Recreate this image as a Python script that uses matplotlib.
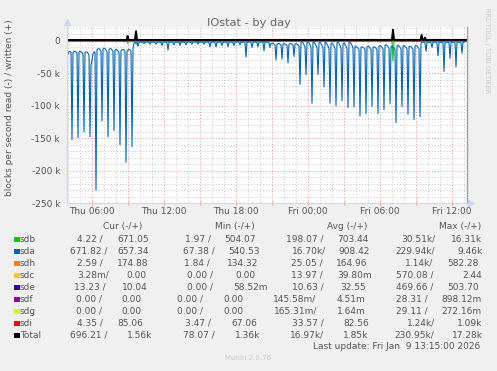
import matplotlib
matplotlib.use("Agg")
import matplotlib.pyplot as plt
import numpy as np
from matplotlib.patches import Rectangle

W, H = 497, 371

# x axis is hours since Thu 00:00, 5 minute samples from Thu 03:55 to Fri 13:15
t_start = 3 + 55 / 60
step = 5 / 60
t_end = t_start + 400 * step

tick_hours = [6, 12, 18, 24, 30, 36]
tick_labels = ["Thu 06:00", "Thu 12:00", "Thu 18:00", "Fri 00:00", "Fri 06:00", "Fri 12:00"]
y_ticks = [0, -50, -100, -150, -200, -250]
y_tick_labels = ["0", "-50 k", "-100 k", "-150 k", "-200 k", "-250 k"]

# sda read, k blocks/s, one row per half hour: five samples then the spike
sda_read = [
    [24, 20, 17, 16, 18, 152], [18, 16, 16, 17, 19, 149], [17, 16, 17, 18, 21, 140],
    [18, 17, 17, 19, 22, 148], [37, 30, 20, 17, 17, 230], [14, 12, 12, 13, 16, 123],
    [12, 11, 12, 14, 17, 148], [13, 12, 12, 14, 16, 138], [14, 13, 14, 15, 18, 160],
    [15, 14, 13, 14, 17, 187], [16, 14, 13, 14, 16, 163],
    [12, 3, 2, 2, 2, 8], [2, 2, 1.5, 2, 2.5, 4], [2, 2, 1.5, 2, 2.5, 5],
    [2, 2, 1.5, 2, 2.5, 5], [2, 2, 1.5, 2, 2.5, 7], [2, 2, 1.5, 2, 2.5, 14],
    [2, 2, 1.5, 2, 2.5, 6], [2, 2, 1.5, 2, 2.5, 7], [2, 2, 1.5, 2, 2.5, 6],
    [2, 2, 1.5, 2, 2.5, 5], [2, 2, 1.5, 2, 2.5, 5], [2, 2, 1.5, 2, 2.5, 5],
    [2, 2, 1.5, 2, 2.5, 9], [2, 2, 1.5, 2, 2.5, 9], [2, 2, 1.5, 2, 2.5, 7],
    [2, 2, 1.5, 2, 2.5, 9], [2, 2, 1.5, 2, 2.5, 7], [2, 2, 1.5, 2, 2.5, 6],
    [2, 2, 1.5, 2, 2.5, 25], [2, 2, 1.5, 2, 2.5, 10], [2, 2, 1.5, 2, 2.5, 9],
    [2, 2, 1.5, 2, 2.5, 15], [2, 2, 1.5, 2, 3, 10],
    [4, 4, 4, 5, 6, 29], [5, 4, 4, 5, 6, 28], [5, 4, 5, 5, 7, 34],
    [5, 4, 4, 5, 6, 24], [5, 4, 5, 6, 8, 67], [2, 1, 3, 6, 9, 52],
    [2, 1, 3, 6, 10, 96], [1, 2, 4, 7, 10, 52], [3, 2, 4, 7, 11, 71],
    [2, 2, 5, 8, 12, 96], [4, 3, 5, 8, 12, 100], [3, 1, 4, 7, 11, 92],
    [5, 3, 5, 8, 12, 103], [2, 1, 4, 7, 11, 102], [8, 9, 10, 11, 13, 116],
    [10, 9, 10, 11, 13, 112], [9, 8, 9, 11, 13, 101], [10, 9, 10, 11, 14, 112],
    [8, 7, 8, 10, 12, 106], [7, 6, 7, 9, 12, 97], [9, 8, 10, 11, 13, 126],
    [8, 7, 8, 10, 12, 101], [8, 7, 9, 10, 12, 113], [9, 8, 9, 11, 13, 121],
    [8, 7, 8, 10, 12, 117],
    [4, 2, 2, 2, 3, 16], [2, 2, 2, 2, 3, 10], [2, 2, 2, 2, 3, 23],
    [2, 2, 2, 2, 3, 47], [2, 2, 2, 2, 3, 27], [2, 2, 2, 2, 3, 40],
    [2, 2, 2, 2, 3, 19],
    [2, 2, 1.5, 1, 0.7],
]

# sparse series: (hour, k blocks/s)
sdb_read_t = [t_start, 8.9, 8.97, 9.05, 9.58, 9.67, 9.75, 31.0, 31.08, 31.17, t_end]
sdb_read_v = [0.2, 0.2, 3.5, 0.2, 0.2, 5.0, 0.2, 0.2, 30.5, 0.2, 0.2]
sdb_written_t = [t_start, 8.9, 8.97, 9.05, 9.58, 9.67, 9.75, 31.0, 31.08, 31.17, t_end]
sdb_written_v = [0.6, 0.6, 5.0, 0.6, 0.6, 10.0, 0.6, 0.7, 16.3, 0.7, 0.7]
sda_written_t = [t_start, 9.58, 9.67, 9.75, 33.38, 33.47, 33.55, t_end]
sda_written_v = [0.7, 0.7, 6.0, 0.7, 0.7, 9.46, 0.7, 0.7]
sdh_read_t = [t_start, 9.67, 9.75, 9.83, t_end]
sdh_read_v = [0.03, 0.03, 1.14, 0.03, 0.03]
sdi_read_t = [t_start, 8.58, 8.67, 8.75, 13.25, 13.33, 13.42, 14.75, 14.83, 14.92,
              20.25, 20.33, 20.42, 26.08, 26.17, 26.25, 31.75, 31.83, 31.92, t_end]
sdi_read_v = [0.03, 0.03, 1.24, 0.03, 0.03, 1.2, 0.03, 0.03, 1.2, 0.03,
              0.03, 1.2, 0.03, 0.03, 1.2, 0.03, 0.03, 1.2, 0.03, 0.03]
total_written_t = [t_start, 8.9, 8.97, 9.05, 9.58, 9.67, 9.75, 31.0, 31.08, 31.17,
                   33.38, 33.47, 33.55, 33.67, 33.75, 33.83, t_end]
total_written_v = [1.5, 1.5, 7.7, 1.5, 1.5, 15.0, 1.5, 1.6, 17.3, 1.6,
                   1.6, 9.0, 1.6, 1.6, 5.0, 1.6, 1.6]

# legend
names = ["sdb", "sda", "sdh", "sdc", "sde", "sdf", "sdg", "sdi", "Total"]
colors = ["#00CC00", "#0066B3", "#FF8000", "#FFCC00", "#330099",
          "#990099", "#CCFF00", "#FF0000", "#000000"]
cur_read = ["4.22 /", "671.82 /", "2.59 /", "3.28m/", "13.23 /", "0.00 /", "0.00 /", "4.35 /", "696.21 /"]
cur_written = ["671.05", "657.34", "174.88", "0.00", "10.04", "0.00", "0.00", "85.06", "1.56k"]
min_read = ["1.97 /", "67.38 /", "1.84 /", "0.00 /", "0.00 /", "0.00 /", "0.00 /", "3.47 /", "78.07 /"]
min_written = ["504.07", "540.53", "134.32", "0.00", "58.52m", "0.00", "0.00", "67.06", "1.36k"]
avg_read = ["198.07 /", "16.70k/", "25.05 /", "13.97 /", "10.63 /", "145.58m/", "165.31m/", "33.57 /", "16.97k/"]
avg_written = ["703.44", "908.42", "164.96", "39.80m", "32.55", "4.51m", "1.64m", "82.56", "1.85k"]
max_read = ["30.51k/", "229.94k/", "1.14k/", "570.08 /", "469.66 /", "28.31 /", "29.11 /", "1.24k/", "230.95k/"]
max_written = ["16.31k", "9.46k", "582.28", "2.44", "503.70", "898.12m", "272.16m", "1.09k", "17.28k"]
headers = ["Cur (-/+)", "Min (-/+)", "Avg (-/+)", "Max (-/+)"]

# left edge (px) of each legend column, per row, as rrdtool justified them
col_x = [
    [77, 70, 77, 77, 74, 76, 76, 77, 70],
    [117, 117, 117, 126, 122, 121, 121, 117, 127],
    [185, 183, 184, 187, 187, 177, 177, 185, 183],
    [224, 228, 227, 235, 233, 223, 223, 231, 235],
    [286, 292, 291, 291, 292, 273, 274, 292, 290],
    [337, 338, 336, 337, 340, 337, 337, 343, 343],
    [401, 395, 405, 396, 396, 396, 396, 407, 394],
    [451, 457, 447, 462, 447, 441, 441, 457, 452],
]
header_x = [103, 215, 327, 439]

FONT = "#555555"
FS = 6.5
LW = 0.8


def fx(x):
    return x / W


def fy(y):
    return 1 - y / H


fig = plt.figure(figsize=(W / 100, H / 100), dpi=100, facecolor="#F0F0F0")
ax = fig.add_axes([fx(67), fy(203), 400 / W, (203 - 27) / H])
ax.set_facecolor("white")
ax.set_xlim(t_start, t_end)
ax.set_ylim(-250, 21.5)

# grid
for h in range(4, 38):
    if h % 3 == 0:
        ax.axvline(h, color="#F09090", lw=0.7, ls=(0, (1, 2)), zorder=0)
    else:
        ax.axvline(h, color="#C8C8C8", lw=0.7, ls=(0, (1, 2)), zorder=0)
for v in range(-240, 21, 10):
    if v % 50 == 0:
        ax.axhline(v, color="#F09090", lw=0.7, ls=(0, (1, 2)), zorder=0)
    else:
        ax.axhline(v, color="#C8C8C8", lw=0.7, ls=(0, (1, 2)), zorder=0)

# series, read drawn below zero
t = t_start + np.arange(sum(len(r) for r in sda_read)) * step
sda = np.concatenate([np.array(r, dtype=float) for r in sda_read])

ax.plot(sdb_read_t, -np.array(sdb_read_v), color=colors[0], lw=LW)
ax.plot(sdb_written_t, sdb_written_v, color=colors[0], lw=LW)
ax.plot(t, -sda, color=colors[1], lw=LW)
ax.plot(sda_written_t, sda_written_v, color=colors[1], lw=LW)
ax.plot(sdh_read_t, -np.array(sdh_read_v), color=colors[2], lw=LW)
ax.plot(sdi_read_t, -np.array(sdi_read_v), color=colors[7], lw=LW)
ax.plot(total_written_t, total_written_v, color=colors[8], lw=1.4)

# axes
ax.spines["top"].set_visible(False)
ax.spines["left"].set_color("#CFD6F8")
ax.spines["bottom"].set_color("#CFD6F8")
ax.spines["right"].set_color("#A0A0A0")
ax.spines["right"].set_linewidth(1.0)
ax.plot([0], [1 + 5 / 176], marker="^", ms=4, color="#CFD6F8",
        transform=ax.transAxes, clip_on=False)
ax.plot([1 + 4 / 400], [0], marker=">", ms=4, color="#CFD6F8",
        transform=ax.transAxes, clip_on=False)

ax.set_xticks(tick_hours)
ax.set_xticklabels(tick_labels)
ax.set_xticks([9, 15, 21, 27, 33], minor=True)
ax.tick_params(axis="x", which="both", length=2.5, direction="inout",
               color="#F09090", width=0.7, pad=1.5, labelsize=FS, labelcolor=FONT)
ax.set_yticks(y_ticks)
ax.set_yticklabels(y_tick_labels)
ax.tick_params(axis="y", length=0, pad=5, labelsize=FS, labelcolor=FONT)

# texts around the plot
fig.text(0.5, fy(26.5), "IOstat - by day", ha="center", va="baseline",
         fontsize=8.2, color="#666666")
fig.text(fx(10), fy(108), "blocks per second read (-) / written (+)",
         rotation=90, ha="center", va="center", fontsize=FS, color=FONT)
fig.text(fx(487), fy(51), "RRDTOOL / TOBI OETIKER", rotation=270,
         ha="center", va="center", fontsize=4.8, color="#C8C8C8")

for hx, head in zip(header_x, headers):
    fig.text(fx(hx), fy(226.7), head, ha="left", va="center", fontsize=FS, color=FONT)

columns = [cur_read, cur_written, min_read, min_written,
           avg_read, avg_written, max_read, max_written]
for i, name in enumerate(names):
    y = 239.5 + 12 * i
    fig.patches.append(Rectangle((fx(14), fy(y + 2.8)), 5.5 / W, 5.5 / H,
                                 transform=fig.transFigure, facecolor=colors[i],
                                 edgecolor="none"))
    fig.text(fx(20), fy(y), name, ha="left", va="center", fontsize=FS, color=FONT)
    for c, col in enumerate(columns):
        fig.text(fx(col_x[c][i]), fy(y), col[i], ha="left", va="center",
                 fontsize=FS, color=FONT)

fig.text(fx(313), fy(346.7), "Last update: Fri Jan  9 13:15:00 2026",
         ha="left", va="center", fontsize=FS, color=FONT)
fig.text(fx(248), fy(358.5), "Munin 2.0.76", ha="center", va="center",
         fontsize=5.0, color="#C8C8C8")

fig.savefig("out.png", dpi=100, facecolor=fig.get_facecolor())
